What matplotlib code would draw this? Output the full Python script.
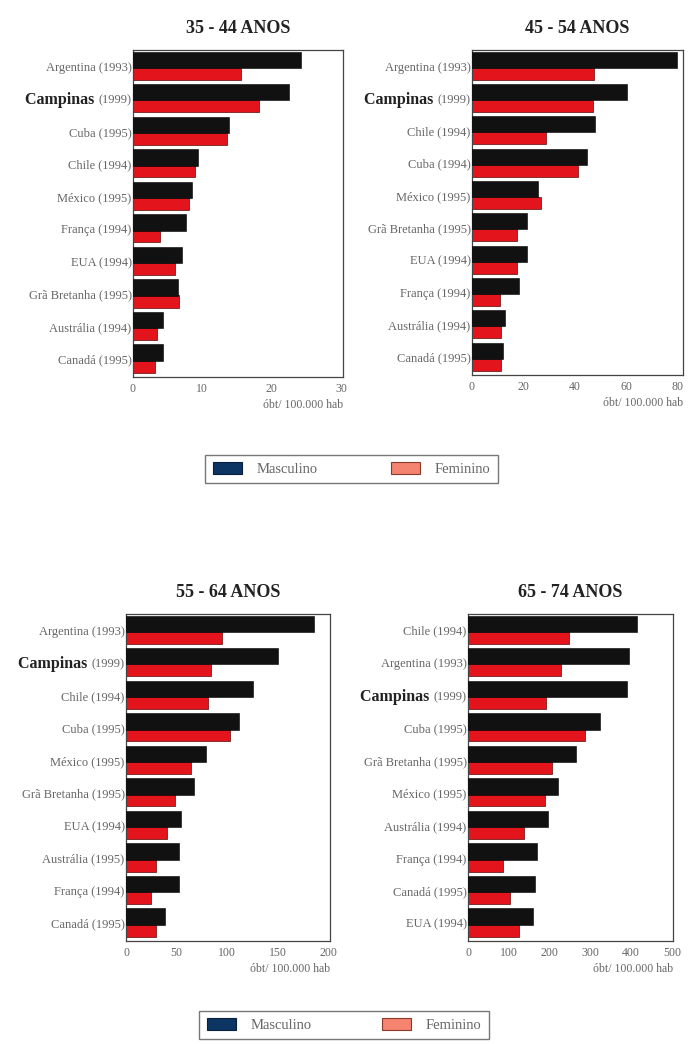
import matplotlib.pyplot as plt
import matplotlib.patches as mpatches
import numpy as np

plt.rcParams['font.family'] = ['Liberation Serif', 'DejaVu Serif']

# 35 - 44 anos
lab_35 = ['Argentina (1993)', 'Campinas (1999)', 'Cuba (1995)', 'Chile (1994)', 'México (1995)',
          'França (1994)', 'EUA (1994)', 'Grã Bretanha (1995)', 'Austrália (1994)', 'Canadá (1995)']
masc_35 = [24.3, 22.5, 13.9, 9.4, 8.5, 7.6, 7.1, 6.5, 4.4, 4.4]
fem_35 = [15.6, 18.2, 13.5, 9.0, 8.1, 3.9, 6.0, 6.7, 3.5, 3.2]

# 45 - 54 anos
lab_45 = ['Argentina (1993)', 'Campinas (1999)', 'Chile (1994)', 'Cuba (1994)', 'México (1995)',
          'Grã Bretanha (1995)', 'EUA (1994)', 'França (1994)', 'Austrália (1994)', 'Canadá (1995)']
masc_45 = [79.5, 60.1, 47.7, 44.8, 25.7, 21.5, 21.5, 18.1, 12.8, 12.1]
fem_45 = [47.3, 47.0, 28.7, 41.2, 26.8, 17.3, 17.3, 10.7, 11.1, 11.1]

# 55 - 64 anos
lab_55 = ['Argentina (1993)', 'Campinas (1999)', 'Chile (1994)', 'Cuba (1995)', 'México (1995)',
          'Grã Bretanha (1995)', 'EUA (1994)', 'Austrália (1995)', 'França (1994)', 'Canadá (1995)']
masc_55 = [186, 151, 126, 112, 79, 67, 54, 52, 52, 39]
fem_55 = [95, 84, 81, 103, 64, 49, 41, 30, 25, 30]

# 65 - 74 anos
lab_65 = ['Chile (1994)', 'Argentina (1993)', 'Campinas (1999)', 'Cuba (1995)', 'Grã Bretanha (1995)',
          'México (1995)', 'Austrália (1994)', 'França (1994)', 'Canadá (1995)', 'EUA (1994)']
masc_65 = [414, 396, 389, 325, 265, 221, 197, 169, 164, 160]
fem_65 = [247, 227, 192, 287, 207, 189, 137, 87, 104, 125]

W, H = 691, 1044
fig = plt.figure(figsize=(W / 100, H / 100), dpi=100)
fig.patch.set_facecolor('white')


def px_axes(x0, y0, x1, y1):
    return fig.add_axes([x0 / W, 1 - y1 / H, (x1 - x0) / W, (y1 - y0) / H])


panels = [
    (px_axes(133, 50, 343, 377), '35 - 44 ANOS', lab_35, masc_35, fem_35, 30.3, [0, 10, 20, 30]),
    (px_axes(472, 50, 683, 375), '45 - 54 ANOS', lab_45, masc_45, fem_45, 82, [0, 20, 40, 60, 80]),
    (px_axes(126, 614, 330, 941), '55 - 64 ANOS', lab_55, masc_55, fem_55, 202, [0, 50, 100, 150, 200]),
    (px_axes(468, 614, 673, 941), '65 - 74 ANOS', lab_65, masc_65, fem_65, 503, [0, 100, 200, 300, 400, 500]),
]

grey = '#666666'
for ax, title, labels, masc, fem, xmax, ticks in panels:
    y = np.arange(len(labels))
    ax.barh(y - 0.2, masc, height=0.5, color='#111111', edgecolor='#000000', lw=0.4, zorder=3)
    ax.barh(y + 0.23, fem, height=0.37, color='#e3141b', edgecolor='#5a0a0a', lw=0.5, zorder=2)
    ax.set_xlim(0, xmax)
    ax.set_ylim(len(labels) - 0.5 + 0.05, -0.5)
    ax.set_xticks(ticks)
    ax.set_xticklabels([str(t) for t in ticks], fontsize=8.5, color=grey)
    ax.set_yticks(y)
    # Campinas gets its name in bold, only the year stays in the tick label
    shown = ['(' + l.split('(')[1] if l.startswith('Campinas') else l for l in labels]
    ax.set_yticklabels(shown, fontsize=9, color=grey)
    ax.tick_params(axis='x', length=0, pad=4)
    ax.tick_params(axis='y', length=0, pad=1)
    for s in ax.spines.values():
        s.set_color('#444444')
        s.set_linewidth(0.9)
    ax.set_title(title, fontsize=13, fontweight='bold', color='#222222', pad=12)
    ax.set_xlabel('óbt/ 100.000 hab', fontsize=8.5, color=grey, loc='right', labelpad=3)
    for tl, l in zip(ax.get_yticklabels(), labels):
        if l.startswith('Campinas'):
            ax.annotate('Campinas ', xy=(0, 0.5), xycoords=tl, ha='right', va='center',
                        fontsize=11.5, fontweight='bold', color='#222222')

handles = [mpatches.Patch(facecolor='#0c3563', edgecolor='#0a1f3a', lw=0.8, label='Masculino'),
           mpatches.Patch(facecolor='#f4836f', edgecolor='#8a3a2a', lw=0.8, label='Feminino')]
for (x0, y0, x1, y1) in [(198, 455, 505, 483), (192, 1007, 496, 1043)]:
    leg = fig.legend(handles=handles, loc='center', ncol=2, fontsize=10.5,
                     bbox_to_anchor=(x0 / W, 1 - y1 / H, (x1 - x0) / W, (y1 - y0) / H),
                     mode='expand', frameon=True, fancybox=False, edgecolor='#555555',
                     handlelength=2.0, handleheight=0.9, handletextpad=1.0,
                     borderpad=0.5, labelcolor=grey)
    leg.get_frame().set_linewidth(1.0)

fig.savefig('out.png', dpi=100, facecolor='white')
